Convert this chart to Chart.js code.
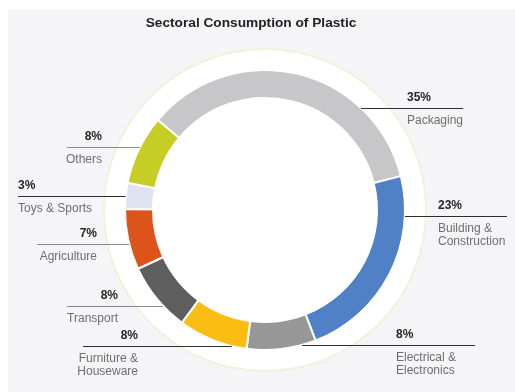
<!DOCTYPE html>
<html><head><meta charset="utf-8">
<script src="https://cdn.jsdelivr.net/npm/chart.js@4/dist/chart.umd.min.js"></script>
<style>html,body{margin:0;padding:0;background:#fff}canvas{display:block}</style>
</head><body>
<canvas id="c" width="515" height="392"></canvas>
<script>
const title = 'Sectoral Consumption of Plastic';
const categories = ['Packaging','Building & Construction','Electrical & Electronics','Furniture & Houseware','Transport','Agriculture','Toys & Sports','Others'];
const shares = [35, 23, 8, 8, 8, 7, 3, 8];
const nameLines = [['Packaging'],['Building &','Construction'],['Electrical &','Electronics'],['Furniture &','Houseware'],['Transport'],['Agriculture'],['Toys & Sports'],['Others']];
const colors = ['#c7c7c9','#5080c6','#979797','#fbbd14','#5e5e5e','#dc5419','#dfe3f1','#c6cd25'];

// label placement (layout only)
const labelLayout = [
  {y:108, side:'R', tx:407, end:463, align:'left',  line:'#2e2e2e'},
  {y:216, side:'R', tx:438, end:507, align:'left',  line:'#2e2e2e'},
  {y:345, side:'R', tx:396, end:475, align:'left',  line:'#2e2e2e'},
  {y:346, side:'L', tx:138, end:83,  align:'right', line:'#2e2e2e'},
  {y:306, side:'L', tx:118, end:67,  align:'right', line:'#8a8a8a'},
  {y:244, side:'L', tx:97,  end:37,  align:'right', line:'#8a8a8a'},
  {y:196, side:'L', tx:18,  end:18,  align:'left',  line:'#2e2e2e'},
  {y:147, side:'L', tx:102, end:67,  align:'right', line:'#8a8a8a'}
];
const FONT = '"Liberation Sans", Arial, Helvetica, sans-serif';

const decor = {
  id: 'decor',
  beforeDraw(chart) {
    const ctx = chart.ctx;
    ctx.save();
    ctx.fillStyle = '#ffffff';
    ctx.fillRect(0, 0, chart.width, chart.height);
    ctx.fillStyle = '#f5f5f7';
    ctx.fillRect(8, 9, chart.width - 8, chart.height - 9);
    const arc = chart.getDatasetMeta(0).data[0];
    if (arc) {
      ctx.beginPath();
      ctx.arc(arc.x, arc.y, arc.outerRadius + 21, 0, Math.PI * 2);
      ctx.fillStyle = '#ffffff';
      ctx.fill();
      ctx.lineWidth = 2;
      ctx.strokeStyle = '#f0f2da';
      ctx.stroke();
    }
    ctx.restore();
  },
  afterDraw(chart) {
    const ctx = chart.ctx;
    const arc = chart.getDatasetMeta(0).data[0];
    const cx = arc.x, cy = arc.y, R = arc.outerRadius;
    ctx.save();
    ctx.textBaseline = 'middle';
    ctx.fillStyle = '#222';
    ctx.font = 'bold 13.7px ' + FONT;
    ctx.textAlign = 'center';
    ctx.fillText(title, 251, 23);

    labelLayout.forEach((L, i) => {
      const dy = L.y - cy;
      const dx = Math.sqrt(Math.max(R * R - dy * dy, 0));
      const ringX = L.side === 'R' ? cx + dx : cx - dx;
      ctx.beginPath();
      ctx.moveTo(ringX, L.y + 0.5);
      ctx.lineTo(L.end, L.y + 0.5);
      ctx.lineWidth = 1;
      ctx.strokeStyle = L.line;
      ctx.stroke();
      ctx.textAlign = L.align;
      ctx.font = 'bold 12px ' + FONT;
      ctx.fillStyle = '#262626';
      ctx.fillText(shares[i] + '%', L.tx, L.y - 10);
      ctx.font = '12px ' + FONT;
      ctx.fillStyle = '#6e6e6e';
      nameLines[i].forEach((t, k) => ctx.fillText(t, L.tx, L.y + 13 + k * 12.5));
    });
    ctx.restore();
  }
};

new Chart(document.getElementById('c'), {
  type: 'doughnut',
  data: {
    labels: categories,
    datasets: [{
      data: shares,
      backgroundColor: colors,
      borderColor: '#ffffff',
      borderWidth: 2,
      hoverOffset: 0
    }]
  },
  options: {
    responsive: false,
    animation: false,
    rotation: -50,
    cutout: '80%',
    layout: { padding: { left: 124, right: 109, top: 69, bottom: 41 } },
    plugins: { legend: { display: false }, tooltip: { enabled: false }, title: { display: false } }
  },
  plugins: [decor]
});
</script>
</body></html>
